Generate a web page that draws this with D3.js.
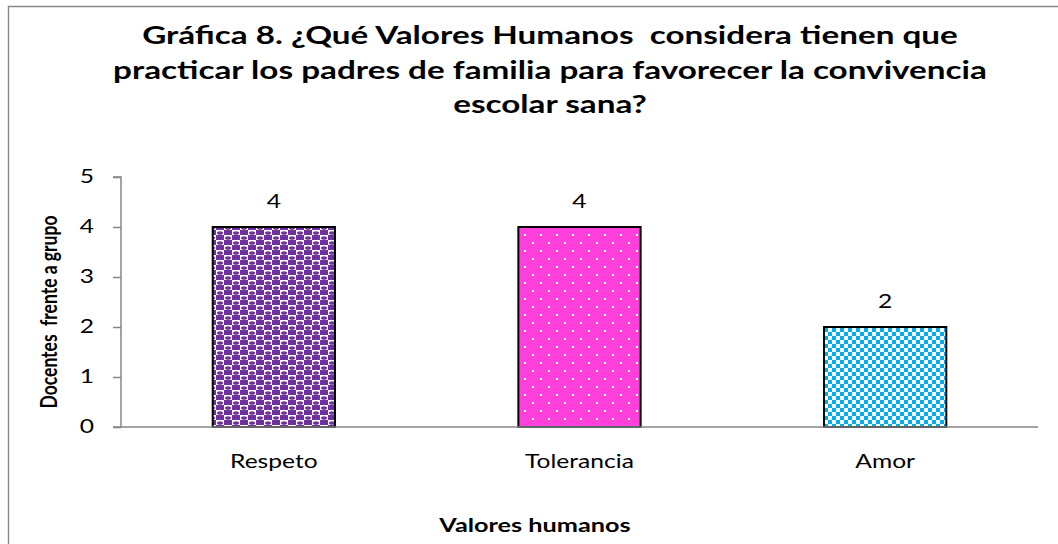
<!DOCTYPE html>
<html>
<head>
<meta charset="utf-8">
<script src="https://cdn.jsdelivr.net/npm/d3@7"></script>
<style>
  body { margin: 0; background: #fff; overflow: hidden; }
  text { font-family: Lato, "Open Sans", sans-serif; white-space: pre; }
</style>
</head>
<body>
<div id="viz"></div>
<script>
const categories = ["Respeto", "Tolerancia", "Amor"];
const values = [4, 4, 2];
const yTicks = [0, 1, 2, 3, 4, 5];
const titleLines = [
  "Gráfica 8. ¿Qué Valores Humanos  considera tienen que",
  "practicar los padres de familia para favorecer la convivencia",
  "escolar sana?"
];
const xTitle = "Valores humanos";
const yTitle = "Docentes  frente a grupo";

const W = 1058, H = 544;
const pLeft = 121, pRight = 1038, pTop = 177, pBottom = 427;
const k = 1.33; // the picture is wider than tall: text is stretched sideways

var svg = d3.select('#viz').append('svg')
  .attr('width', W)
  .attr('height', H);

const defs = svg.append('defs');

// Respeto: purple spheres on a checker
let p1 = defs.append('pattern').attr('id', 'pat0')
  .attr('patternUnits', 'userSpaceOnUse')
  .attr('width', 16).attr('height', 10);
p1.append('rect').attr('width', 16).attr('height', 10).attr('fill', '#fff');
p1.append('rect').attr('x', 0).attr('y', 0).attr('width', 8).attr('height', 5).attr('fill', '#7030a0');
p1.append('rect').attr('x', 8).attr('y', 5).attr('width', 8).attr('height', 5).attr('fill', '#7030a0');
p1.append('ellipse').attr('cx', 12).attr('cy', 3).attr('rx', 3).attr('ry', 1.8).attr('fill', '#7030a0');
p1.append('ellipse').attr('cx', 4).attr('cy', 8).attr('rx', 3).attr('ry', 1.8).attr('fill', '#7030a0');

// Tolerancia: magenta with white dots
let p2 = defs.append('pattern').attr('id', 'pat1')
  .attr('patternUnits', 'userSpaceOnUse')
  .attr('width', 16).attr('height', 16);
p2.append('rect').attr('width', 16).attr('height', 16).attr('fill', '#ff40dc');
p2.append('rect').attr('x', 4).attr('y', 2).attr('width', 2).attr('height', 2).attr('fill', '#fff');
p2.append('rect').attr('x', 12).attr('y', 10).attr('width', 2).attr('height', 2).attr('fill', '#fff');

// Amor: cyan checkerboard
let p3 = defs.append('pattern').attr('id', 'pat2')
  .attr('patternUnits', 'userSpaceOnUse')
  .attr('width', 8).attr('height', 8);
p3.append('rect').attr('width', 8).attr('height', 8).attr('fill', '#fff');
p3.append('rect').attr('x', 0).attr('y', 0).attr('width', 4).attr('height', 4).attr('fill', '#00b0f0');
p3.append('rect').attr('x', 4).attr('y', 4).attr('width', 4).attr('height', 4).attr('fill', '#00b0f0');

// outer frame, only its left and top edges are inside the picture
svg.append('path')
  .attr('d', 'M8.5,560V6.5H1100')
  .attr('fill', 'none').attr('stroke', '#898989').attr('stroke-width', 1.4);

const x = d3.scaleBand()
  .domain(categories)
  .range([pLeft, pRight])
  .paddingInner(0.6)
  .paddingOuter(0.3);

const y = d3.scaleLinear()
  .domain([0, 5])
  .range([pBottom, pTop]);

// y axis
const ya = svg.append('g')
  .attr('transform', `translate(${pLeft},0)`)
  .call(d3.axisLeft(y).tickValues(yTicks).tickSize(8).tickFormat(d3.format('d')));
ya.selectAll('path, line').attr('stroke', '#868686').attr('stroke-width', 1.5);
ya.select('.domain').attr('d', `M-8,${pTop}H0V${pBottom}H-8`);
ya.selectAll('text')
  .attr('x', 0)
  .attr('transform', `translate(-27,0) scale(${k},1)`)
  .attr('font-size', 18.5).attr('fill', '#000')
  .attr('font-family', 'Lato, sans-serif');

// bars
svg.selectAll('rect.bar')
  .data(values)
  .enter()
  .append('rect')
  .attr('class', 'bar')
  .attr('x', (d, i) => x(categories[i]))
  .attr('y', d => y(d))
  .attr('width', x.bandwidth())
  .attr('height', d => y(0) - y(d))
  .attr('fill', (d, i) => `url(#pat${i})`)
  .attr('stroke', '#000')
  .attr('stroke-width', 2);

// x axis line
svg.append('line')
  .attr('x1', pLeft).attr('x2', pRight)
  .attr('y1', pBottom).attr('y2', pBottom)
  .attr('stroke', '#868686').attr('stroke-width', 1.5);

// value labels
svg.selectAll('text.val')
  .data(values)
  .enter()
  .append('text')
  .attr('class', 'val')
  .attr('transform', (d, i) => `translate(${x(categories[i]) + x.bandwidth() / 2},${y(d) - 19}) scale(${k},1)`)
  .attr('text-anchor', 'middle')
  .attr('font-size', 18.5)
  .text(d => d);

// category labels
svg.selectAll('text.cat')
  .data(categories)
  .enter()
  .append('text')
  .attr('class', 'cat')
  .attr('transform', d => `translate(${x(d) + x.bandwidth() / 2},468) scale(${k},1)`)
  .attr('text-anchor', 'middle')
  .attr('font-size', 18.5)
  .text(d => d);

// title
svg.selectAll('text.title')
  .data(titleLines)
  .enter()
  .append('text')
  .attr('class', 'title')
  .attr('transform', (d, i) => `translate(550,${44 + i * 34.5}) scale(${k},1)`)
  .attr('text-anchor', 'middle')
  .attr('font-size', 25)
  .attr('font-weight', 'bold')
  .text(d => d);

// axis titles
svg.append('text')
  .attr('transform', `translate(535,532) scale(${k},1)`)
  .attr('text-anchor', 'middle')
  .attr('font-size', 19).attr('font-weight', 'bold')
  .text(xTitle);

svg.append('text')
  .attr('transform', `translate(57,312) scale(${k},1) rotate(-90)`)
  .attr('text-anchor', 'middle')
  .attr('font-size', 17.5).attr('font-weight', 'bold')
  .text(yTitle);
</script>
</body>
</html>
